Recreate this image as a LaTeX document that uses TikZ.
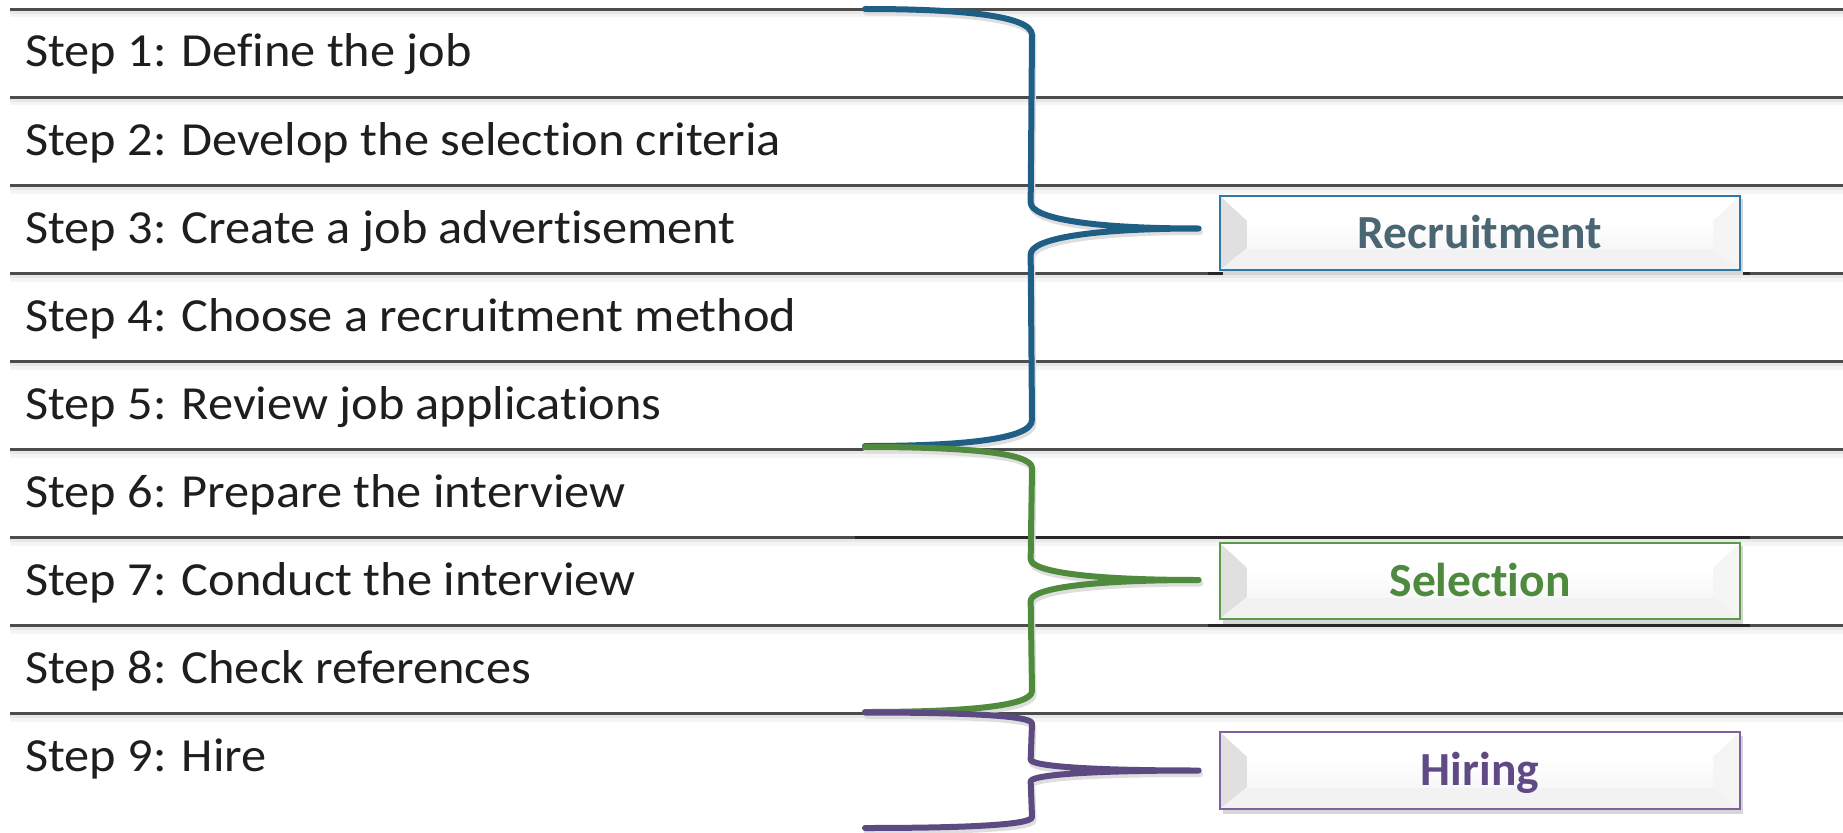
\documentclass[tikz,border=0pt]{standalone}
\usepackage{fontspec}
\setmainfont{Carlito}[Ligatures=NoCommon]
\newfontfamily\stepfont{Carlito}[FakeStretch=1.06,Ligatures=NoCommon]
\newfontfamily\labelfont{Carlito}[Ligatures=NoCommon]
\usetikzlibrary{calc}
\definecolor{recB}{HTML}{2F79A8}
\definecolor{recT}{HTML}{4A6672}
\definecolor{braceB}{HTML}{1F5E85}
\definecolor{selB}{HTML}{5A9A48}
\definecolor{selT}{HTML}{4E8A3E}
\definecolor{braceG}{HTML}{4F8A3D}
\definecolor{hirB}{HTML}{7A63A0}
\definecolor{hirT}{HTML}{5F4A85}
\definecolor{braceP}{HTML}{5E4A82}
\definecolor{steptx}{HTML}{1E1E1E}
\newcommand\mkbrace[5]{%
  \draw[braceline,black!13,transform canvas={xshift=1.5pt,yshift=-3.5pt}]
    (#2) .. controls +(95,0) and +(0,-0.75*#5) .. ($(#2)+(167,#5)$)
    -- ($(#4)+(-168,-#5)$) .. controls +(0,0.6*#5) and +(-110,0) .. (#4)
    .. controls +(-110,0) and +(0,-0.6*#5) .. ($(#4)+(-168,#5)$)
    -- ($(#3)+(167,-#5)$) .. controls +(0,0.75*#5) and +(95,0) .. (#3);
  \draw[braceline,#1]
    (#2) .. controls +(95,0) and +(0,-0.75*#5) .. ($(#2)+(167,#5)$)
    -- ($(#4)+(-168,-#5)$) .. controls +(0,0.6*#5) and +(-110,0) .. (#4)
    .. controls +(-110,0) and +(0,-0.6*#5) .. ($(#4)+(-168,#5)$)
    -- ($(#3)+(167,-#5)$) .. controls +(0,0.75*#5) and +(95,0) .. (#3);
}
\begin{document}
\begin{tikzpicture}[x=1pt,y=-1pt,
  rowline/.style={draw=black!70, line width=2.2pt},
  darkrule/.style={draw=black!85, line width=3pt},
  rowshadowA/.style={draw=black!9, line width=3pt},
  rowshadowB/.style={draw=black!4, line width=4pt},
  steptext/.style={anchor=base west, inner sep=0pt, text=steptx,
    font=\stepfont\fontsize{47.5}{56}\selectfont},
  braceline/.style={line width=6pt, line cap=round, line join=round},
  boxshadow/.style={fill=black!16},
  catbox/.style={draw=#1, line width=2.7pt, minimum width=520pt,
    inner sep=0pt, fill=white, text height=30pt, text depth=0pt,
    font=\labelfont\bfseries\fontsize{47.5}{56}\selectfont,
    path picture={
      \fill[black!12] (path picture bounding box.north west)
        -- ([xshift=27pt,yshift=-25pt]path picture bounding box.north west)
        -- ([xshift=27pt,yshift=22pt]path picture bounding box.south west)
        -- (path picture bounding box.south west) -- cycle;
      \fill[black!4] (path picture bounding box.north east)
        -- ([xshift=-27pt,yshift=-25pt]path picture bounding box.north east)
        -- ([xshift=-27pt,yshift=22pt]path picture bounding box.south east)
        -- (path picture bounding box.south east) -- cycle;
      \fill[black!5] (path picture bounding box.south west)
        -- ([xshift=27pt,yshift=22pt]path picture bounding box.south west)
        -- ([xshift=-27pt,yshift=22pt]path picture bounding box.south east)
        -- (path picture bounding box.south east) -- cycle;
      \shade[top color=white, bottom color=black!3]
        ([xshift=27pt,yshift=-25pt]path picture bounding box.north west)
        rectangle ([xshift=-27pt,yshift=22pt]path picture bounding box.south east);
    }},
]
\useasboundingbox (0,0) rectangle (1843,832);
\fill[white] (0,0) rectangle (1843,832);

% table rules
\foreach \k in {0,...,8}{
  \draw[rowshadowB] (10,{9.5+88*\k+6}) -- (1843,{9.5+88*\k+6});
  \draw[rowshadowA] (10,{9.5+88*\k+3}) -- (1843,{9.5+88*\k+3});
  \draw[rowline] (10,{9.5+88*\k}) -- (1843,{9.5+88*\k});
}
\draw[darkrule] (1208,273.5) -- (1750,273.5);
\draw[darkrule] (855,537.5) -- (1750,537.5);
\draw[darkrule] (1208,625.5) -- (1750,625.5);

% step texts
\node[steptext] (s1) at (25,67)  {Step 1: Define the job};
\node[steptext] (s2) at (25,155) {Step 2: Develop the selection criteria};
\node[steptext] (s3) at (25,243) {Step 3: Create a job advertisement};
\node[steptext] (s4) at (25,331) {Step 4: Choose a recruitment method};
\node[steptext] (s5) at (25,419) {Step 5: Review job applications};
\node[steptext] (s6) at (25,507) {Step 6: Prepare the interview};
\node[steptext] (s7) at (25,595) {Step 7: Conduct the interview};
\node[steptext] (s8) at (25,683) {Step 8: Check references};
\node[steptext] (s9) at (25,771) {Step 9: Hire};

% category boxes
\coordinate (recC) at (1480,233);
\coordinate (selC) at (1480,581);
\coordinate (hirC) at (1480,770.5);
\fill[boxshadow] ($(recC)+(-257,-34)$) rectangle ($(recC)+(263,42)$);
\fill[boxshadow] ($(selC)+(-257,-35)$) rectangle ($(selC)+(263,43)$);
\fill[boxshadow] ($(hirC)+(-257,-35)$) rectangle ($(hirC)+(263,43)$);
\node[catbox=recB, text=recT, minimum height=74pt] (rec) at (recC) {Recruitment};
\node[catbox=selB, text=selT, minimum height=76pt] (sel) at (selC) {Selection};
\node[catbox=hirB, text=hirT, minimum height=77pt] (hir) at (hirC) {Hiring};

% brace ends and tips
\coordinate (rTop) at (865,9);
\coordinate (rBot) at (865,446);
\coordinate (rTip) at ($(rec.west)+(-20,-4.5)$);
\coordinate (sTop) at (865,447);
\coordinate (sBot) at (865,712);
\coordinate (sTip) at ($(sel.west)+(-20,-1)$);
\coordinate (hTop) at (865,712.5);
\coordinate (hBot) at (865,828);
\coordinate (hTip) at ($(hir.west)+(-20,0)$);

\mkbrace{braceB}{rTop}{rBot}{rTip}{26}
\mkbrace{braceG}{sTop}{sBot}{sTip}{21}
\mkbrace{braceP}{hTop}{hBot}{hTip}{11}
\end{tikzpicture}
\end{document}
